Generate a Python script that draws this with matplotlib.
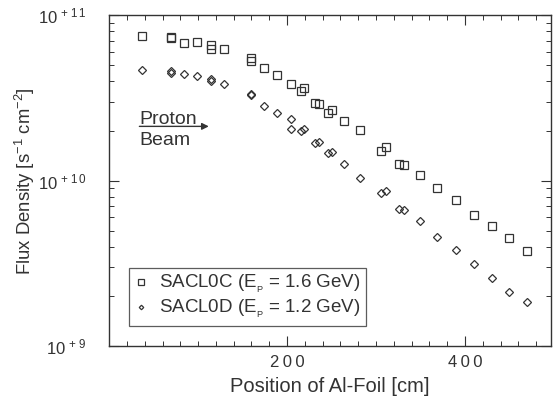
import numpy as np
import matplotlib
matplotlib.use("Agg")
import matplotlib.pyplot as plt
from matplotlib.ticker import FixedLocator, LogLocator, FuncFormatter, NullFormatter

plt.rcParams['font.family'] = ['Liberation Sans', 'DejaVu Sans']
plt.rcParams['mathtext.fontset'] = 'custom'
plt.rcParams['mathtext.rm'] = 'Liberation Sans'
plt.rcParams['mathtext.it'] = 'Liberation Sans:italic'

# SACL0C (Ep = 1.6 GeV), squares
pos_c = [37, 69, 70, 84, 99, 115, 115, 129, 160, 160, 174.5, 189, 205, 216, 219,
         231, 236, 246, 251, 264, 282, 306, 311, 326, 331, 349, 369, 390, 410.5,
         430, 450, 470]
flux_c = [7.44e10, 7.35e10, 7.27e10, 6.76e10, 6.92e10, 6.64e10, 6.28e10, 6.28e10,
          5.52e10, 5.25e10, 4.82e10, 4.35e10, 3.83e10, 3.49e10, 3.62e10,
          2.94e10, 2.92e10, 2.58e10, 2.69e10, 2.28e10, 2.02e10, 1.52e10, 1.59e10,
          1.26e10, 1.24e10, 1.08e10, 9.09e9, 7.65e9, 6.24e9, 5.36e9, 4.50e9, 3.79e9]

# SACL0D (Ep = 1.2 GeV), diamonds
pos_d = [37, 69, 70, 84, 99, 114, 115, 129, 160, 160, 174.5, 189, 205, 205, 216,
         219, 231, 236, 246, 251, 264, 282, 306, 311, 326, 331, 349, 369, 390,
         410.5, 430, 450, 470]
flux_d = [4.66e10, 4.58e10, 4.50e10, 4.42e10, 4.30e10, 4.10e10, 4.00e10, 3.86e10,
          3.36e10, 3.28e10, 2.84e10, 2.56e10, 2.36e10, 2.06e10, 2.00e10,
          2.05e10, 1.70e10, 1.72e10, 1.48e10, 1.50e10, 1.27e10, 1.04e10, 8.43e9,
          8.63e9, 6.73e9, 6.64e9, 5.68e9, 4.59e9, 3.84e9, 3.13e9, 2.58e9,
          2.13e9, 1.85e9]

labels = [r'SACL0C (E$_{_\mathregular{P}}$ = 1.6 GeV)',
          r'SACL0D (E$_{_\mathregular{P}}$ = 1.2 GeV)']

ink = '#333333'

fig = plt.figure(figsize=(5.54, 3.99), dpi=100)
ax = fig.add_axes([0.197, 0.132, 0.798, 0.830])

ax.plot(pos_c, flux_c, ls='none', marker='s', ms=6.3, mfc='none', mec=ink,
        mew=0.9, label=labels[0])
ax.plot(pos_d, flux_d, ls='none', marker='D', ms=3.8, mfc='none', mec=ink,
        mew=0.9, label=labels[1])

ax.set_yscale('log')
ax.set_xlim(0, 497)
ax.set_ylim(1e9, 1e11)

# ticks
ax.xaxis.set_major_locator(FixedLocator([200, 400]))
ax.xaxis.set_minor_locator(FixedLocator(np.arange(20, 497, 20)))
ax.xaxis.set_major_formatter(FuncFormatter(lambda v, p: '\u2009'.join(str(int(v)))))
ax.yaxis.set_major_locator(FixedLocator([1e9, 1e10, 1e11]))
ax.yaxis.set_minor_locator(LogLocator(base=10, subs=np.arange(2, 10)))
ax.yaxis.set_minor_formatter(NullFormatter())


def ylab(v, p):
    e = int(round(np.log10(v)))
    sup = r'\,'.join('+' + str(e))
    return r'$\mathregular{10^{\,%s}}$' % sup


ax.yaxis.set_major_formatter(FuncFormatter(ylab))
ax.tick_params(which='both', direction='in', top=True, right=True,
               colors=ink, labelcolor=ink, labelsize=12)
ax.tick_params(which='major', length=7.5, width=0.8, pad=6)
ax.tick_params(axis='y', which='major', pad=16)
ax.tick_params(which='minor', length=3.6, width=0.7)
for s in ax.spines.values():
    s.set_color(ink)
    s.set_linewidth(1.0)

ax.set_xlabel('Position of Al-Foil [cm]', fontsize=14.5, color=ink, labelpad=5)
ax.set_ylabel(r'Flux Density [s$^{\mathregular{-1}}$ cm$^{\mathregular{-2}}$]',
              fontsize=13.3, color=ink)
ax.yaxis.set_label_coords(-0.163, 0.5)

# proton beam arrow
ax.annotate('', xy=(112, 2.13e10), xytext=(34, 2.13e10),
            arrowprops=dict(arrowstyle='-|>', color=ink, lw=1.0,
                            mutation_scale=10, shrinkA=0, shrinkB=0))
ax.text(34, 2.2e10, 'Proton', fontsize=14, color=ink, ha='left', va='baseline')
ax.text(34, 1.98e10, 'Beam', fontsize=14, color=ink, ha='left', va='top')

leg = ax.legend(loc='lower left', bbox_to_anchor=(0.044, 0.062), borderaxespad=0,
                fontsize=13.5, frameon=True, fancybox=False, markerscale=0.6,
                handlelength=0.7, handletextpad=0.6, labelspacing=0.15,
                borderpad=0.3)
leg.get_frame().set_edgecolor(ink)
leg.get_frame().set_linewidth(0.9)
for t in leg.get_texts():
    t.set_color(ink)

fig.savefig('out.png', dpi=100)
